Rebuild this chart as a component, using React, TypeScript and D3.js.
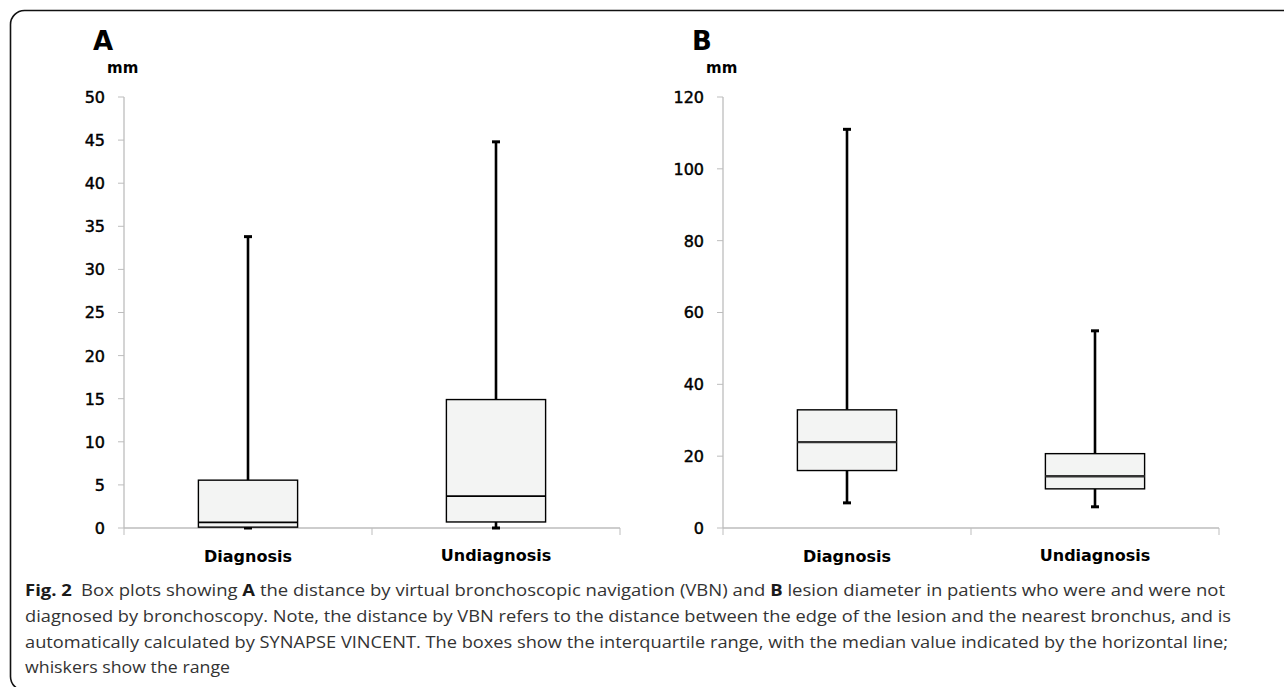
import React from "react";
import * as d3 from "d3";

const categories = ["Diagnosis", "Undiagnosis"];

// Panel A: distance by VBN (mm)
const aMin = [0, 0];
const aQ1 = [0.1, 0.7];
const aMedian = [0.65, 3.7];
const aQ3 = [5.55, 14.9];
const aMax = [33.8, 44.8];
const aTicks = [0, 5, 10, 15, 20, 25, 30, 35, 40, 45, 50];

// Panel B: lesion diameter (mm)
const bMin = [7, 5.9];
const bQ1 = [16, 10.9];
const bMedian = [23.9, 14.4];
const bQ3 = [32.9, 20.7];
const bMax = [111, 54.9];
const bTicks = [0, 20, 40, 60, 80, 100, 120];

const captionLines = [
  [
    { t: "Fig. 2", b: true },
    { t: "\u2002Box plots showing ", b: false },
    { t: "A", b: true },
    { t: " the distance by virtual bronchoscopic navigation (VBN) and ", b: false },
    { t: "B", b: true },
    { t: " lesion diameter in patients who were and were not", b: false },
  ],
  [{ t: "diagnosed by bronchoscopy. Note, the distance by VBN refers to the distance between the edge of the lesion and the nearest bronchus, and is", b: false }],
  [{ t: "automatically calculated by SYNAPSE VINCENT. The boxes show the interquartile range, with the median value indicated by the horizontal line;", b: false }],
  [{ t: "whiskers show the range", b: false }],
];
const captionWidths = [1200, 1206, 1203, 205];

type PanelProps = {
  letter: string;
  x0: number;
  domainMax: number;
  ticks: number[];
  mins: number[];
  q1: number[];
  med: number[];
  q3: number[];
  maxs: number[];
  medianWidth: number;
  medianColor: string;
};

function Panel(p: PanelProps) {
  const y = d3.scaleLinear().domain([0, p.domainMax]).range([528, 97]);
  const x = d3.scaleBand().domain(categories).range([p.x0, p.x0 + 496]).paddingInner(0).paddingOuter(0);
  const bw = x.bandwidth() * 0.4;
  const axisColor = "#bdbdbd";
  const font = "'DejaVu Sans', sans-serif";
  return (
    <g>
      <text x={p.x0 - 31} y={50} fontFamily={font} fontWeight="bold" fontSize={26} fill="#000">{p.letter}</text>
      <text x={p.x0 - 17} y={73} fontFamily={font} fontWeight="bold" fontSize={15} fill="#000">mm</text>
      {/* y axis */}
      <line x1={p.x0} x2={p.x0} y1={y(p.domainMax)} y2={y(0)} stroke={axisColor} strokeWidth={1.3} />
      {p.ticks.map((t) => (
        <g key={t}>
          <line x1={p.x0 - 6} x2={p.x0} y1={y(t)} y2={y(t)} stroke={axisColor} strokeWidth={1} />
          <text x={p.x0 - 19} y={y(t)} dy="0.37em" textAnchor="end" fontFamily={font} fontSize={16} fill="#000" stroke="#000" strokeWidth={0.45}>{t}</text>
        </g>
      ))}
      {/* x axis */}
      <line x1={p.x0} x2={p.x0 + 496} y1={y(0)} y2={y(0)} stroke={axisColor} strokeWidth={1.3} />
      {[0, 1, 2].map((i) => (
        <line key={i} x1={p.x0 + i * x.bandwidth()} x2={p.x0 + i * x.bandwidth()} y1={y(0)} y2={y(0) + 7} stroke={axisColor} strokeWidth={1} />
      ))}
      {categories.map((c, i) => {
        const cx = (x(c) as number) + x.bandwidth() / 2;
        return (
          <g key={c}>
            <text x={cx} y={562 - i * 1} textAnchor="middle" fontFamily={font} fontWeight="bold" fontSize={16} fill="#000">{c}</text>
            {/* whiskers */}
            <line x1={cx} x2={cx} y1={y(p.q3[i])} y2={y(p.maxs[i])} stroke="#000" strokeWidth={2.6} />
            <line x1={cx} x2={cx} y1={y(p.q1[i])} y2={y(p.mins[i])} stroke="#000" strokeWidth={2.6} />
            <line x1={cx - 4} x2={cx + 4} y1={y(p.maxs[i])} y2={y(p.maxs[i])} stroke="#000" strokeWidth={3} />
            <line x1={cx - 4} x2={cx + 4} y1={y(p.mins[i])} y2={y(p.mins[i])} stroke="#000" strokeWidth={3} />
            {/* box */}
            <rect x={cx - bw / 2} y={y(p.q3[i])} width={bw} height={y(p.q1[i]) - y(p.q3[i])} fill="#f3f4f3" stroke="#000" strokeWidth={1.4} />
            <line x1={cx - bw / 2} x2={cx + bw / 2} y1={y(p.med[i])} y2={y(p.med[i])} stroke={p.medianColor} strokeWidth={p.medianWidth} />
          </g>
        );
      })}
    </g>
  );
}

export default function App() {
  const capFont = "'Open Sans', 'Noto Sans', sans-serif";
  const baselines = [596, 622, 647.5, 673];
  return (
    <svg width={1284} height={687} style={{ position: "absolute", left: 0, top: 0, background: "#fff" }}>
      <rect x={0} y={0} width={1284} height={687} fill="#fff" />
      <rect x={10.5} y={10.5} width={1400} height={680} rx={14} ry={14} fill="none" stroke="#111" strokeWidth={1.6} />
      <Panel letter="A" x0={124} domainMax={50} ticks={aTicks} mins={aMin} q1={aQ1} med={aMedian} q3={aQ3} maxs={aMax} medianWidth={1.6} medianColor="#000" />
      <Panel letter="B" x0={723} domainMax={120} ticks={bTicks} mins={bMin} q1={bQ1} med={bMedian} q3={bQ3} maxs={bMax} medianWidth={2.4} medianColor="#333" />
      {captionLines.map((line, i) => (
        <text key={i} x={25} y={baselines[i]} fontFamily={capFont} fontSize={16.8} fill="#333" textLength={captionWidths[i]} lengthAdjust="spacingAndGlyphs">
          {line.map((s, j) => (
            <tspan key={j} fontWeight={s.b ? "bold" : "normal"} fill={s.b ? "#1a1a1a" : "#333"}>{s.t}</tspan>
          ))}
        </text>
      ))}
    </svg>
  );
}
